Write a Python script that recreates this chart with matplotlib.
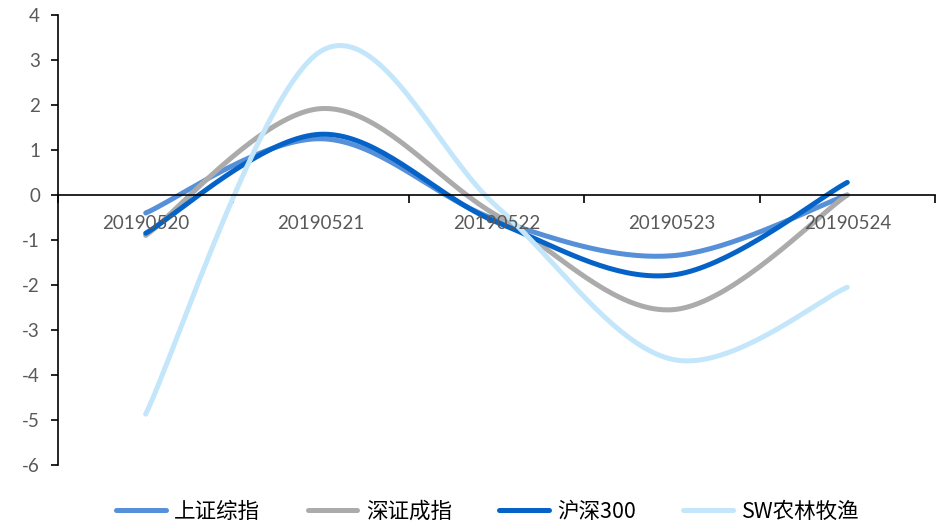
import numpy as np
import matplotlib.pyplot as plt

plt.rcParams['font.family'] = ['Noto Sans CJK SC', 'DejaVu Sans']
plt.rcParams['axes.unicode_minus'] = False

dates = ['20190520', '20190521', '20190522', '20190523', '20190524']
names = ['上证综指', '深证成指', '沪深300', 'SW农林牧渔']
sh_index = [-0.40, 1.25, -0.55, -1.35, 0.00]
sz_index = [-0.90, 1.92, -0.45, -2.55, 0.00]
hs300 = [-0.85, 1.35, -0.60, -1.78, 0.28]
sw_agri = [-4.87, 3.20, -0.25, -3.65, -2.05]
colors = ['#5690D8', '#ABABAB', '#0563C8', '#C4E6FA']


def smooth(xs, ys, n=40):
    # Catmull-Rom style bezier between points (like Excel smoothed lines)
    xs = np.asarray(xs, float)
    ys = np.asarray(ys, float)
    px = np.concatenate([[xs[0]], xs, [xs[-1]]])
    py = np.concatenate([[ys[0]], ys, [ys[-1]]])
    out_x, out_y = [], []
    t = np.linspace(0, 1, n)
    for i in range(1, len(px) - 2):
        p0 = np.array([px[i], py[i]])
        p3 = np.array([px[i + 1], py[i + 1]])
        c1 = p0 + (p3 - np.array([px[i - 1], py[i - 1]])) / 6
        c2 = p3 - (np.array([px[i + 2], py[i + 2]]) - p0) / 6
        pts = ((1 - t) ** 3)[:, None] * p0 + (3 * (1 - t) ** 2 * t)[:, None] * c1 \
            + (3 * (1 - t) * t ** 2)[:, None] * c2 + (t ** 3)[:, None] * p3
        out_x.extend(pts[:, 0])
        out_y.extend(pts[:, 1])
    return out_x, out_y


fig = plt.figure(figsize=(9.47, 5.29), dpi=100)
ax = fig.add_axes([58 / 947, 1 - 465 / 529, (935 - 58) / 947, 450 / 529])

x = np.arange(len(dates))
for vals, name, c in zip([sh_index, sz_index, hs300, sw_agri], names, colors):
    sx, sy = smooth(x, vals)
    ax.plot(sx, sy, color=c, lw=3.6, solid_capstyle='round', label=name)

ax.set_xlim(-0.5, len(dates) - 0.5)
ax.set_ylim(-6, 4)
ax.set_yticks(range(-6, 5))
ax.tick_params(axis='y', labelsize=13.5, labelcolor='#595959', length=5, width=1.2,
               direction='out', pad=8)
for lab in ax.get_yticklabels():
    lab.set_family('Lato')

# category axis drawn at y=0
ax.spines['top'].set_visible(False)
ax.spines['right'].set_visible(False)
ax.spines['bottom'].set_position(('data', 0))
ax.spines['bottom'].set_linewidth(1.2)
ax.spines['left'].set_linewidth(1.2)
ax.set_xticks(np.arange(-0.5, len(dates)))
ax.set_xticklabels([])
ax.tick_params(axis='x', length=6, width=1.2, direction='out')
for i, d in enumerate(dates):
    ax.text(i, -0.45, d, ha='center', va='top', fontsize=13.5, color='#595959',
            family='Lato')

fig.legend(loc='lower center', ncol=4, frameon=False, fontsize=15.5,
           bbox_to_anchor=(0.515, -0.025), handlelength=2.3, columnspacing=2.2,
           handletextpad=0.4)

fig.savefig('out.png', dpi=100)
